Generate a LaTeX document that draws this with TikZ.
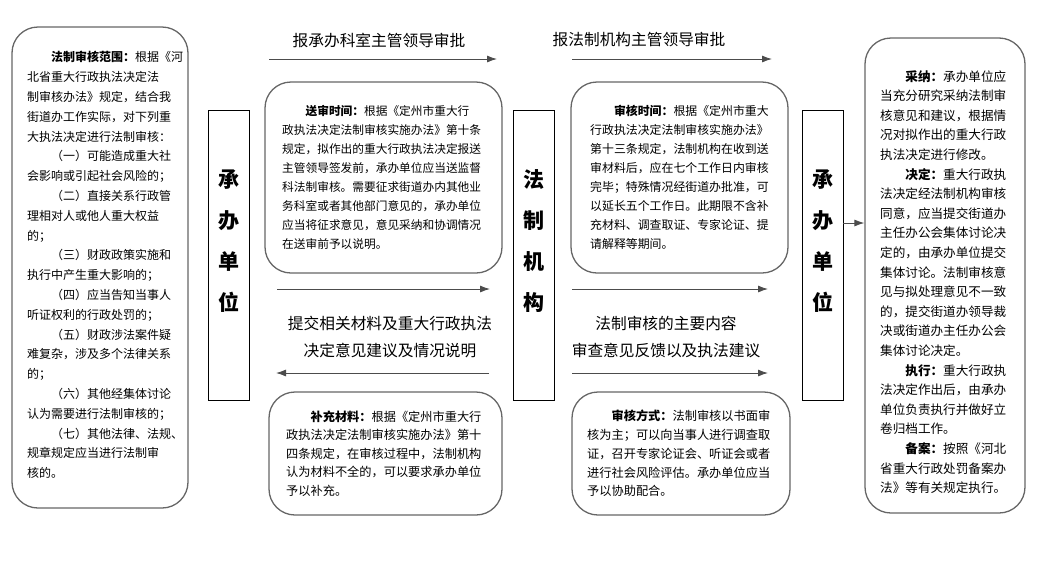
\documentclass[tikz,border=0pt]{standalone}
\usepackage{fontspec}
\setmainfont{Noto Sans CJK SC}
\usetikzlibrary{arrows.meta}
\newcommand\bodyfont[2]{\fontsize{#1}{#2}\selectfont}
\tikzset{
    roundbox/.style={draw=black!60, line width=1.3pt, rounded corners=26pt, inner sep=0pt},
    unitbox/.style={draw, line width=0.8pt, minimum width=41pt, minimum height=290pt, inner sep=0pt},
    unitlabel/.style={font=\bfseries\bodyfont{21}{41}, align=center, yshift=13.5pt},
    bodytext/.style={anchor=west, align=left, inner sep=0pt},
    flow/.style={draw=black!70, line width=0.9pt, -{Latex[length=10pt,width=7pt]}},
    flowlabel/.style={font=\bodyfont{15.7}{27}, align=center, inner sep=0pt}
}
\begin{document}
\begin{tikzpicture}[x=1pt, y=-1pt]
    \useasboundingbox (0,0) rectangle (1048,579);

    % Scope of the review (left column)
    \node[roundbox, minimum width=176pt, minimum height=481pt] (range) at (100,267.5) {};
    \node[bodytext, font=\bodyfont{12}{19.8}] (rangetext) at (27,265) {%
        \hspace*{2em}\textbf{法制审核范围：}根据《河\\
        北省重大行政执法决定法\\
        制审核办法》规定，结合我\\
        街道办工作实际，对下列重\\
        大执法决定进行法制审核：\\
        \hspace*{2em}（一）可能造成重大社\\
        会影响或引起社会风险的；\\
        \hspace*{2em}（二）直接关系行政管\\
        理相对人或他人重大权益\\
        的；\\
        \hspace*{2em}（三）财政政策实施和\\
        执行中产生重大影响的；\\
        \hspace*{2em}（四）应当告知当事人\\
        听证权利的行政处罚的；\\
        \hspace*{2em}（五）财政涉法案件疑\\
        难复杂，涉及多个法律关系\\
        的；\\
        \hspace*{2em}（六）其他经集体讨论\\
        认为需要进行法制审核的；\\
        \hspace*{2em}（七）其他法律、法规、\\
        规章规定应当进行法制审\\
        核的。};

    % The three vertical columns
    \node[unitbox, label={[unitlabel]center:{承\\办\\单\\位}}] (unitL) at (228.5,255) {};
    \node[unitbox, label={[unitlabel]center:{法\\制\\机\\构}}] (organ) at (533.5,255) {};
    \node[unitbox, label={[unitlabel]center:{承\\办\\单\\位}}] (unitR) at (822.5,255) {};

    % Upper row of notes
    \node[roundbox, minimum width=237pt, minimum height=191pt] (submit) at (383.5,177.5) {};
    \node[bodytext, font=\bodyfont{11.7}{19}] (submittext) at (282,177.5) {%
        \hspace*{2em}\textbf{送审时间：}根据《定州市重大行\\
        政执法决定法制审核实施办法》第十条\\
        规定，拟作出的重大行政执法决定报送\\
        主管领导签发前，承办单位应当送监督\\
        科法制审核。需要征求街道办内其他业\\
        务科室或者其他部门意见的，承办单位\\
        应当将征求意见，意见采纳和协调情况\\
        在送审前予以说明。};

    \node[roundbox, minimum width=217pt, minimum height=191pt] (reviewtime) at (679.5,177.5) {};
    \node[bodytext, font=\bodyfont{11.9}{19}] (reviewtimetext) at (590,177.5) {%
        \hspace*{2em}\textbf{审核时间：}根据《定州市重大\\
        行政执法决定法制审核实施办法》\\
        第十三条规定，法制机构在收到送\\
        审材料后，应在七个工作日内审核\\
        完毕；特殊情况经街道办批准，可\\
        以延长五个工作日。此期限不含补\\
        充材料、调查取证、专家论证、提\\
        请解释等期间。};

    % Lower row of notes
    \node[roundbox, minimum width=233pt, minimum height=123pt] (supplement) at (385.5,453.5) {};
    \node[bodytext, font=\bodyfont{12.2}{18.5}] (supplementtext) at (286,453.5) {%
        \hspace*{2em}\textbf{补充材料：}根据《定州市重大行\\
        政执法决定法制审核实施办法》第十\\
        四条规定，在审核过程中，法制机构\\
        认为材料不全的，可以要求承办单位\\
        予以补充。};

    \node[roundbox, minimum width=218pt, minimum height=123pt] (reviewway) at (681,453.5) {};
    \node[bodytext, font=\bodyfont{12.2}{18.7}] (reviewwaytext) at (587,453.5) {%
        \hspace*{2em}\textbf{审核方式：}法制审核以书面审\\
        核为主；可以向当事人进行调查取\\
        证，召开专家论证会、听证会或者\\
        进行社会风险评估。承办单位应当\\
        予以协助配合。};

    % Outcome (right column)
    \node[roundbox, minimum width=160pt, minimum height=475pt] (result) at (945,275.5) {};
    \node[bodytext, font=\bodyfont{12.6}{19.6}] (resulttext) at (880,282) {%
        \hspace*{2em}\textbf{采纳：}承办单位应\\
        当充分研究采纳法制审\\
        核意见和建议，根据情\\
        况对拟作出的重大行政\\
        执法决定进行修改。\\
        \hspace*{2em}\textbf{决定：}重大行政执\\
        法决定经法制机构审核\\
        同意，应当提交街道办\\
        主任办公会集体讨论决\\
        定的，由承办单位提交\\
        集体讨论。法制审核意\\
        见与拟处理意见不一致\\
        的，提交街道办领导裁\\
        决或街道办主任办公会\\
        集体讨论决定。\\
        \hspace*{2em}\textbf{执行：}重大行政执\\
        法决定作出后，由承办\\
        单位负责执行并做好立\\
        卷归档工作。\\
        \hspace*{2em}\textbf{备案：}按照《河北\\
        省重大行政处罚备案办\\
        法》等有关规定执行。};

    % Flow arrows and their labels
    \coordinate (t1s) at (269,59);  \coordinate (t1e) at (497,59);
    \coordinate (t2s) at (572,59);  \coordinate (t2e) at (772,59);
    \coordinate (m1s) at (277,289); \coordinate (m1e) at (490,289);
    \coordinate (m2s) at (572,289); \coordinate (m2e) at (768,289);
    \coordinate (b1s) at (489,373); \coordinate (b1e) at (276,373);
    \coordinate (b2s) at (572,373); \coordinate (b2e) at (768,373);
    \coordinate (sidey) at (0,223);

    \draw[flow] (t1s) -- (t1e);
    \draw[flow] (t2s) -- (t2e);
    \draw[flow] (m1s) -- (m1e);
    \draw[flow] (m2s) -- (m2e);
    \draw[flow] (b1s) -- (b1e);
    \draw[flow] (b2s) -- (b2e);
    \draw[flow] (unitR.east |- sidey) -- (result.west |- sidey);

    \node[flowlabel] (t1label) at (379,40) {报承办科室主管领导审批};
    \node[flowlabel] (t2label) at (639,40) {报法制机构主管领导审批};
    \node[flowlabel] (m1label) at (390,337) {提交相关材料及重大行政执法\\决定意见建议及情况说明};
    \node[flowlabel] (m2label) at (666,337) {法制审核的主要内容\\审查意见反馈以及执法建议};
\end{tikzpicture}
\end{document}
